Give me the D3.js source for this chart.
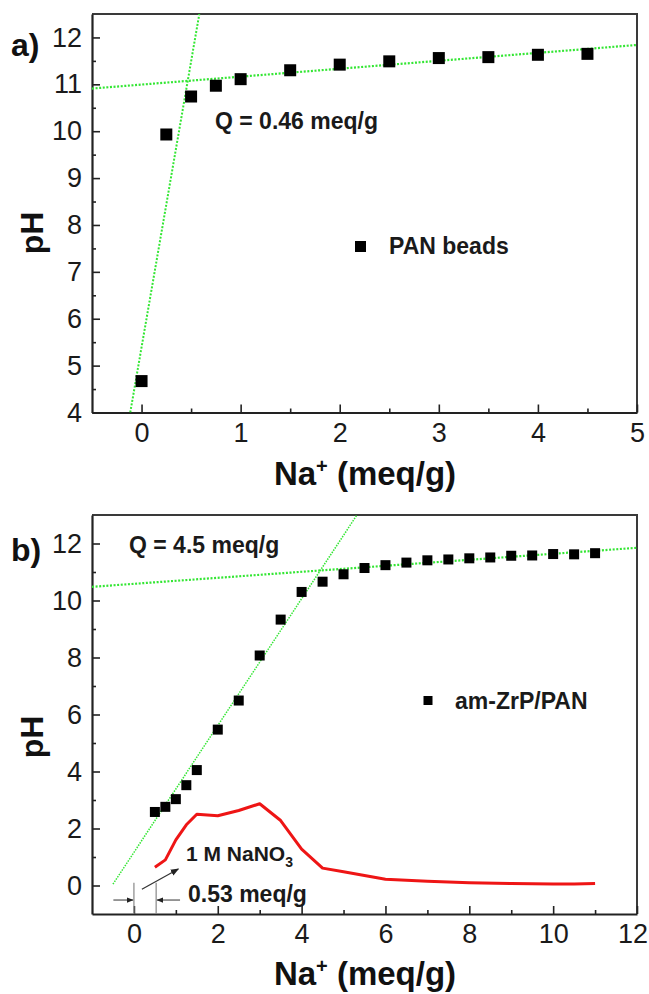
<!DOCTYPE html>
<html>
<head>
<meta charset="utf-8">
<script src="https://cdn.jsdelivr.net/npm/d3@7"></script>
<style>
  html, body { margin: 0; padding: 0; background: #fff; }
  svg { display: block; font-family: "Liberation Sans", Arial, sans-serif; }
</style>
</head>
<body>
<svg id="chart" width="649" height="994"></svg>
<script>
// Panel a) PAN beads titration
const panXs = [0, 0.25, 0.5, 0.75, 1, 1.5, 2, 2.5, 3, 3.5, 4, 4.5];
const panPH = [4.67, 9.93, 10.74, 10.97, 11.11, 11.30, 11.42, 11.49, 11.56, 11.58, 11.63, 11.65];
// tangent lines drawn through panel a) (end points, meq/g / pH)
const panPlateau = [[-0.5, 10.91], [5, 11.84]];
const panRise = [[-0.114, 4], [0.583, 12.5]];

// Panel b) am-ZrP/PAN titration
const zrpXs = [0.5, 0.75, 1, 1.25, 1.5, 2, 2.5, 3, 3.5, 4, 4.5, 5, 5.5, 6, 6.5, 7, 7.5, 8, 8.5, 9, 9.5, 10, 10.5, 11];
const zrpPH = [2.58, 2.76, 3.03, 3.52, 4.05, 5.47, 6.49, 8.07, 9.33, 10.30, 10.66, 10.92, 11.14, 11.24, 11.33, 11.41, 11.44, 11.48, 11.51, 11.57, 11.58, 11.63, 11.62, 11.66];
const zrpPlateau = [[-1, 10.48], [12, 11.85]];
const zrpRise = [[-0.5, 0.05], [5.32, 13]];

// 1 M NaNO3 blank curve
const nanoXs = [0.5, 0.75, 1, 1.25, 1.5, 2, 2.5, 3, 3.5, 4, 4.5, 5, 6, 7, 8, 9, 10, 10.5, 11];
const nanoPH = [0.64, 0.90, 1.60, 2.13, 2.50, 2.45, 2.63, 2.87, 2.28, 1.28, 0.61, 0.48, 0.22, 0.15, 0.10, 0.07, 0.05, 0.05, 0.07];

// tick values
const aXMajor = [0, 1, 2, 3, 4, 5];
const aXMinor = [0.5, 1.5, 2.5, 3.5, 4.5];
const aYMajor = [4, 5, 6, 7, 8, 9, 10, 11, 12];
const aYMinor = [4.5, 5.5, 6.5, 7.5, 8.5, 9.5, 10.5, 11.5];
const bXMajor = [0, 2, 4, 6, 8, 10, 12];
const bXMinor = [1, 3, 5, 7, 9, 11];
const bYMajor = [0, 2, 4, 6, 8, 10, 12];
const bYMinor = [1, 3, 5, 7, 9, 11];

const svg = d3.select("#chart");
const GREEN = "#33e633";
const RED = "#ee1515";
const TICK_FONT = 27;
const PAGE_W = 649;

function drawPanel(cfg) {
  const x = d3.scaleLinear().domain(cfg.xDomain).range([cfg.left, cfg.right]);
  const y = d3.scaleLinear().domain(cfg.yDomain).range([cfg.bottom, cfg.top]);
  const g = svg.append("g");

  // top / right frame
  g.append("path")
    .attr("d", `M${cfg.left},${cfg.top}H${cfg.right}V${cfg.bottom}`)
    .attr("fill", "none").attr("stroke", "#3a3a3a").attr("stroke-width", 2);

  // minor ticks
  g.append("g").attr("transform", `translate(0,${cfg.bottom})`)
    .call(d3.axisBottom(x).tickValues(cfg.xMinor).tickSize(-4).tickSizeOuter(0).tickFormat(""))
    .call(a => a.select(".domain").remove())
    .selectAll("line").attr("stroke", "#222").attr("stroke-width", 1.6);
  g.append("g").attr("transform", `translate(${cfg.left},0)`)
    .call(d3.axisLeft(y).tickValues(cfg.yMinor).tickSize(-4).tickSizeOuter(0).tickFormat(""))
    .call(a => a.select(".domain").remove())
    .selectAll("line").attr("stroke", "#222").attr("stroke-width", 1.6);

  // major axes
  const xa = g.append("g").attr("transform", `translate(0,${cfg.bottom})`)
    .call(d3.axisBottom(x).tickValues(cfg.xMajor).tickSize(-8).tickSizeOuter(0).tickPadding(10).tickFormat(d3.format("d")));
  const ya = g.append("g").attr("transform", `translate(${cfg.left},0)`)
    .call(d3.axisLeft(y).tickValues(cfg.yMajor).tickSize(-8).tickSizeOuter(0).tickPadding(10).tickFormat(d3.format("d")));
  [xa, ya].forEach(a => {
    a.select(".domain").attr("stroke", "#222").attr("stroke-width", 2.2);
    a.selectAll(".tick line").attr("stroke", "#222").attr("stroke-width", 1.6);
    a.selectAll(".tick text").attr("fill", "#1a1a1a").style("font-size", TICK_FONT + "px")
      .style("font-family", '"Liberation Sans", Arial, sans-serif');
  });
  // keep the last x label inside the page
  xa.selectAll(".tick text").each(function () {
    const b = this.getBBox();
    const tx = +d3.select(this.parentNode).attr("transform").match(/translate\(([-\d.]+)/)[1];
    const overflow = tx + b.x + b.width - (PAGE_W - 1);
    if (overflow > 0) d3.select(this).attr("x", -overflow);
  });

  // clipped plot area for fit lines
  const clipId = "clip-" + cfg.name;
  svg.append("clipPath").attr("id", clipId).append("rect")
    .attr("x", cfg.left).attr("y", cfg.top)
    .attr("width", cfg.right - cfg.left).attr("height", cfg.bottom - cfg.top);
  const plot = g.append("g").attr("clip-path", `url(#${clipId})`);
  const line = d3.line().x(d => x(d[0])).y(d => y(d[1]));

  return { x, y, g, plot, line };
}

function squares(sel, xs, ys, p, size) {
  sel.selectAll(null).data(xs.map((d, i) => [d, ys[i]])).join("rect")
    .attr("x", d => p.x(d[0]) - size / 2).attr("y", d => p.y(d[1]) - size / 2)
    .attr("width", size).attr("height", size).attr("fill", "#000");
}

// ---------- panel a ----------
const pa = drawPanel({
  name: "a", xDomain: [-0.5, 5], yDomain: [4, 12.5],
  left: 92, right: 637, top: 14, bottom: 412.5,
  xMajor: aXMajor, xMinor: aXMinor, yMajor: aYMajor, yMinor: aYMinor
});
pa.plot.append("path").attr("d", pa.line(panPlateau)).attr("fill", "none")
  .attr("stroke", GREEN).attr("stroke-width", 2.2).attr("stroke-dasharray", "2,1.6");
pa.plot.append("path").attr("d", pa.line(panRise)).attr("fill", "none")
  .attr("stroke", GREEN).attr("stroke-width", 2).attr("stroke-dasharray", "2,1.6");
squares(pa.g, panXs, panPH, pa, 12);

pa.g.append("text").attr("x", 215).attr("y", 129).attr("font-size", 23).attr("font-weight", "bold")
  .attr("fill", "#1a1a1a").text("Q = 0.46 meq/g");
pa.g.append("rect").attr("x", 355).attr("y", 241).attr("width", 11).attr("height", 11).attr("fill", "#000");
pa.g.append("text").attr("x", 389).attr("y", 254).attr("font-size", 23).attr("font-weight", "bold")
  .attr("fill", "#1a1a1a").text("PAN beads");

svg.append("text").attr("x", 11).attr("y", 56).attr("font-size", 32).attr("font-weight", "bold")
  .attr("fill", "#111").text("a)");
svg.append("text").attr("transform", "translate(43,233) rotate(-90)").attr("text-anchor", "middle")
  .attr("font-size", 32).attr("font-weight", "bold").attr("fill", "#111").text("pH");
const ta = svg.append("text").attr("x", 365).attr("y", 485).attr("text-anchor", "middle")
  .attr("font-size", 33).attr("font-weight", "bold").attr("fill", "#111");
ta.append("tspan").text("Na");
ta.append("tspan").attr("font-size", 20).attr("dy", -12).text("+");
ta.append("tspan").attr("dy", 12).text(" (meq/g)");

// ---------- panel b ----------
const pb = drawPanel({
  name: "b", xDomain: [-1, 12], yDomain: [-1, 13],
  left: 92, right: 637, top: 515, bottom: 914,
  xMajor: bXMajor, xMinor: bXMinor, yMajor: bYMajor, yMinor: bYMinor
});
pb.plot.append("path").attr("d", pb.line(zrpPlateau)).attr("fill", "none")
  .attr("stroke", GREEN).attr("stroke-width", 2.2).attr("stroke-dasharray", "2,1.6");
pb.plot.append("path").attr("d", pb.line(zrpRise)).attr("fill", "none")
  .attr("stroke", GREEN).attr("stroke-width", 1.5).attr("stroke-dasharray", "1.5,1.2");
pb.g.append("path").attr("d", pb.line(nanoXs.map((d, i) => [d, nanoPH[i]])))
  .attr("fill", "none").attr("stroke", RED).attr("stroke-width", 3).attr("stroke-linejoin", "round");
squares(pb.g, zrpXs, zrpPH, pb, 10);

pb.g.append("text").attr("x", 129).attr("y", 553).attr("font-size", 23).attr("font-weight", "bold")
  .attr("fill", "#1a1a1a").text("Q = 4.5 meq/g");
pb.g.append("rect").attr("x", 423.5).attr("y", 696).attr("width", 9).attr("height", 9).attr("fill", "#000");
pb.g.append("text").attr("x", 455).attr("y", 709).attr("font-size", 23).attr("font-weight", "bold")
  .attr("fill", "#1a1a1a").text("am-ZrP/PAN");

// NaNO3 label and the 0.53 meq/g offset marker
const nl = pb.g.append("text").attr("x", 186).attr("y", 861).attr("font-size", 21).attr("font-weight", "bold")
  .attr("fill", "#1a1a1a");
nl.append("tspan").text("1 M NaNO");
nl.append("tspan").attr("font-size", 14).attr("dy", 6).text("3");
pb.g.append("text").attr("x", 188).attr("y", 902).attr("font-size", 23).attr("font-weight", "bold")
  .attr("fill", "#1a1a1a").text("0.53 meq/g");

const offsetStart = 0, offsetEnd = 0.53;
svg.append("defs").append("marker").attr("id", "arrow").attr("viewBox", "0 0 10 10")
  .attr("refX", 9).attr("refY", 5).attr("markerWidth", 7).attr("markerHeight", 7)
  .attr("orient", "auto-start-reverse")
  .append("path").attr("d", "M0,1L10,5L0,9Z").attr("fill", "#222");
[offsetStart, offsetEnd].forEach(v => {
  pb.g.append("line").attr("x1", pb.x(v)).attr("x2", pb.x(v))
    .attr("y1", pb.y(0.1)).attr("y2", pb.y(-1))
    .attr("stroke", "#888").attr("stroke-width", 1.2);
});
pb.g.append("line").attr("x1", pb.x(-0.49)).attr("y1", pb.y(-0.51))
  .attr("x2", pb.x(offsetStart) - 1).attr("y2", pb.y(-0.51))
  .attr("stroke", "#333").attr("stroke-width", 1).attr("marker-end", "url(#arrow)");
pb.g.append("line").attr("x1", pb.x(1.1)).attr("y1", pb.y(-0.51))
  .attr("x2", pb.x(offsetEnd) + 1).attr("y2", pb.y(-0.51))
  .attr("stroke", "#333").attr("stroke-width", 1).attr("marker-end", "url(#arrow)");
pb.g.append("line").attr("x1", pb.x(0.19)).attr("y1", pb.y(-0.13))
  .attr("x2", pb.x(1.06)).attr("y2", pb.y(0.58))
  .attr("stroke", "#333").attr("stroke-width", 1.2).attr("marker-end", "url(#arrow)");

svg.append("text").attr("x", 11).attr("y", 561).attr("font-size", 32).attr("font-weight", "bold")
  .attr("fill", "#111").text("b)");
svg.append("text").attr("transform", "translate(43,737) rotate(-90)").attr("text-anchor", "middle")
  .attr("font-size", 32).attr("font-weight", "bold").attr("fill", "#111").text("pH");
const tb = svg.append("text").attr("x", 365).attr("y", 985).attr("text-anchor", "middle")
  .attr("font-size", 33).attr("font-weight", "bold").attr("fill", "#111");
tb.append("tspan").text("Na");
tb.append("tspan").attr("font-size", 20).attr("dy", -12).text("+");
tb.append("tspan").attr("dy", 12).text(" (meq/g)");
</script>
</body>
</html>
